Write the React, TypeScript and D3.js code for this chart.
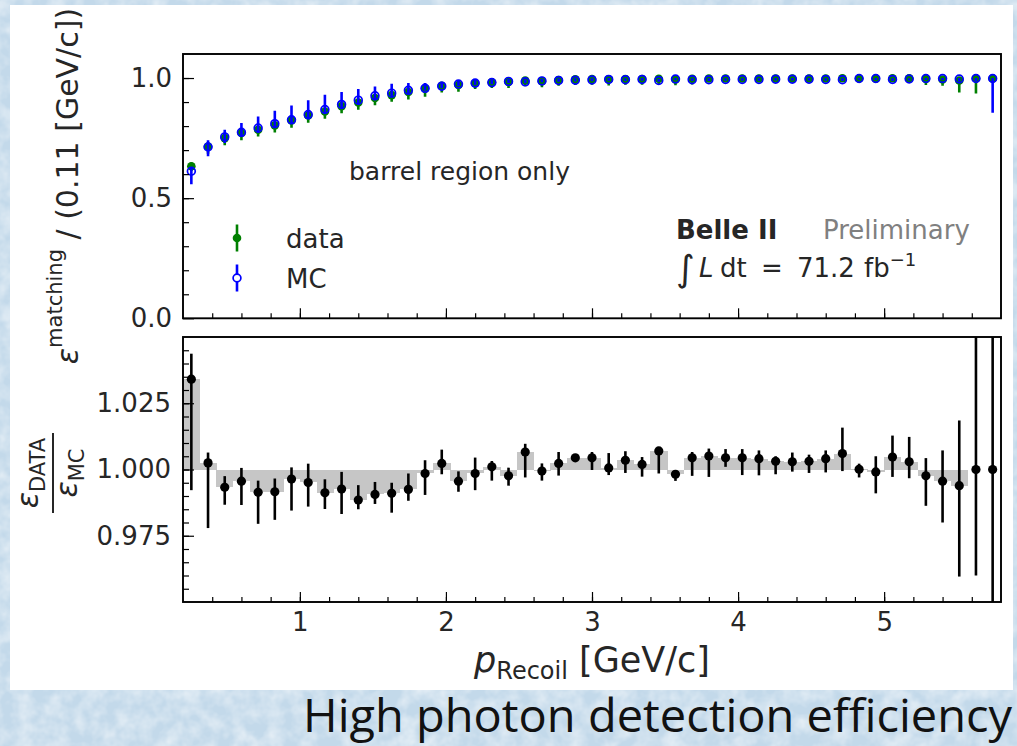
import React, { useEffect, useRef } from 'react';
import * as d3 from 'd3';

// binning of p_Recoil [GeV/c]
const binLow = 0.2;
const binHigh = 5.8;
const nBins = 49;

// matching efficiency, MC
const mcEff = [
  0.612, 0.713, 0.755, 0.774, 0.792, 0.81, 0.826, 0.848, 0.869, 0.89,
  0.908, 0.926, 0.937, 0.949, 0.957, 0.966, 0.975, 0.979, 0.981, 0.986,
  0.984, 0.988, 0.99, 0.991, 0.992, 0.994, 0.993, 0.994, 0.99, 0.996,
  0.993, 0.993, 0.994, 0.994, 0.994, 0.995, 0.995, 0.995, 0.994, 0.993,
  0.998, 0.998, 0.994, 0.996, 0.998, 0.998, 0.996, 0.998, 0.998,
];
const mcErrUp = [
  0.018, 0.028, 0.03, 0.039, 0.048, 0.054, 0.06, 0.06, 0.061, 0.052,
  0.046, 0.039, 0.039, 0.03, 0.022, 0.018, 0.015, 0.013, 0.012, 0.01,
  0.01, 0.009, 0.008, 0.008, 0.007, 0.006, 0.006, 0.006, 0.006, 0.004,
  0.006, 0.006, 0.005, 0.005, 0.005, 0.005, 0.005, 0.005, 0.005, 0.006,
  0.002, 0.002, 0.005, 0.003, 0.002, 0.002, 0.004, 0.002, 0.002,
];
const mcErrDown = [
  0.054, 0.039, 0.025, 0.019, 0.021, 0.018, 0.014, 0.021, 0.017, 0.018,
  0.02, 0.017, 0.013, 0.012, 0.01, 0.009, 0.008, 0.008, 0.007, 0.007,
  0.006, 0.006, 0.006, 0.005, 0.005, 0.005, 0.005, 0.005, 0.005, 0.005,
  0.005, 0.005, 0.005, 0.005, 0.005, 0.005, 0.005, 0.005, 0.005, 0.005,
  0.005, 0.006, 0.006, 0.006, 0.006, 0.006, 0.01, 0.01, 0.142,
];

// matching efficiency, data
const dataEff = [
  0.633, 0.715, 0.75, 0.771, 0.785, 0.803, 0.823, 0.844, 0.861, 0.883,
  0.898, 0.917, 0.929, 0.942, 0.956, 0.968, 0.971, 0.978, 0.982, 0.984,
  0.99, 0.987, 0.992, 0.995, 0.996, 0.995, 0.996, 0.996, 0.997, 0.994,
  0.997, 0.998, 0.998, 0.998, 0.998, 0.998, 0.998, 0.998, 0.998, 0.999,
  0.998, 0.997, 0.999, 0.999, 0.996, 0.994, 0.99, 0.998, 0.998,
];
const dataErrUp = [
  0.015, 0.012, 0.012, 0.012, 0.012, 0.012, 0.012, 0.012, 0.012, 0.012,
  0.012, 0.01, 0.01, 0.01, 0.008, 0.008, 0.008, 0.006, 0.005, 0.005,
  0.005, 0.005, 0.005, 0.004, 0.004, 0.004, 0.004, 0.004, 0.003, 0.004,
  0.003, 0.002, 0.002, 0.002, 0.002, 0.002, 0.002, 0.002, 0.002, 0.001,
  0.002, 0.003, 0.001, 0.001, 0.004, 0.006, 0.01, 0.002, 0.002,
];
const dataErrDown = [
  0.02, 0.03, 0.03, 0.03, 0.028, 0.03, 0.03, 0.03, 0.03, 0.03,
  0.03, 0.03, 0.028, 0.031, 0.034, 0.028, 0.028, 0.024, 0.024, 0.025,
  0.024, 0.025, 0.024, 0.024, 0.024, 0.026, 0.024, 0.024, 0.024, 0.024,
  0.024, 0.015, 0.015, 0.015, 0.015, 0.015, 0.015, 0.015, 0.015, 0.015,
  0.015, 0.015, 0.015, 0.015, 0.025, 0.026, 0.05, 0.062, 0.01,
];

// data / MC ratio
const ratio = [
  1.0341, 1.0025, 0.9933, 0.9956, 0.9914, 0.9916, 0.9964, 0.9951, 0.9912, 0.9926,
  0.9885, 0.9906, 0.991, 0.9925, 0.9985, 1.0023, 0.9956, 0.9985, 1.001, 0.9976,
  1.0066, 0.9994, 1.0023, 1.0044, 1.0044, 1.0006, 1.0035, 1.0019, 1.007, 0.9982,
  1.0044, 1.0051, 1.0044, 1.0044, 1.0041, 1.0031, 1.0029, 1.0031, 1.0041, 1.006,
  1.0001, 0.9991, 1.0047, 1.0029, 0.9976, 0.9956, 0.9939, 1.0, 1.0,
];
const ratioErrUp = [
  0.0096, 0.0039, 0.0042, 0.005, 0.0044, 0.005, 0.0044, 0.0071, 0.0051, 0.0065,
  0.0056, 0.0047, 0.004, 0.006, 0.005, 0.0052, 0.0037, 0.006, 0.0022, 0.0031,
  0.0031, 0.0029, 0.0043, 0.001, 0.0022, 0.0056, 0.0034, 0.0028, 0.0015, 0.0015,
  0.0022, 0.0028, 0.0033, 0.0033, 0.0031, 0.0019, 0.0035, 0.0025, 0.0031, 0.0098,
  0.0021, 0.0059, 0.0081, 0.0094, 0.0067, 0.0116, 0.0246, 0.08, 0.08,
];
const ratioErrDown = [
  0.0419, 0.0246, 0.0066, 0.009, 0.0119, 0.0106, 0.0119, 0.0091, 0.0061, 0.0094,
  0.0035, 0.0036, 0.0073, 0.0043, 0.0081, 0.0041, 0.004, 0.0063, 0.0052, 0.0037,
  0.0096, 0.0036, 0.0046, 0.0012, 0.0046, 0.0027, 0.0048, 0.0046, 0.0085, 0.0025,
  0.0068, 0.0079, 0.0034, 0.0065, 0.0063, 0.0049, 0.0037, 0.0044, 0.0052, 0.0066,
  0.0031, 0.0081, 0.0075, 0.0062, 0.0113, 0.0156, 0.0343, 0.04, 0.1,
];

const xMajor = [1, 2, 3, 4, 5];
const topYMajor = [0, 0.5, 1.0];
const bottomYMajor = [0.975, 1.0, 1.025];

const App = () => {
  const ref = useRef<SVGSVGElement>(null);

  useEffect(() => {
    document.body.style.margin = '0';
    document.body.style.overflow = 'hidden';
    const svg = d3.select(ref.current);
    svg.selectAll('*').remove();

    const W = 1017;
    const H = 746;
    const left = 183;
    const right = 1001;
    const font = "'DejaVu Sans', sans-serif";
    const green = '#008000';
    const blue = '#0000ff';

    const x = d3.scaleLinear().domain([binLow, binHigh]).range([left, right]);
    const yTop = d3.scaleLinear().domain([0, 1.1]).range([318.3, 54]);
    const yBot = d3.scaleLinear().domain([0.95, 1.05]).range([602, 337]);

    const bw = (binHigh - binLow) / nBins;
    const centers = d3.range(nBins).map((i) => binLow + (i + 0.5) * bw);

    // background
    const defs = svg.append('defs');
    const f = defs.append('filter').attr('id', 'tex').attr('x', 0).attr('y', 0).attr('width', 1).attr('height', 1);
    f.append('feTurbulence').attr('type', 'fractalNoise').attr('baseFrequency', 0.06).attr('numOctaves', 3).attr('seed', 4);
    f.append('feColorMatrix').attr('type', 'matrix')
      .attr('values', '0 0 0 0 1  0 0 0 0 1  0 0 0 0 1  1.0 0 0 0 -0.33');
    defs.append('clipPath').attr('id', 'clipTop')
      .append('rect').attr('x', left).attr('y', 54).attr('width', right - left).attr('height', 318.3 - 54);
    defs.append('clipPath').attr('id', 'clipBot')
      .append('rect').attr('x', left).attr('y', 337).attr('width', right - left).attr('height', 602 - 337);

    svg.append('rect').attr('width', W).attr('height', H).attr('fill', '#c3d9ea');
    svg.append('rect').attr('width', W).attr('height', H).attr('filter', 'url(#tex)');
    svg.append('rect').attr('x', 10).attr('y', 5).attr('width', 1003).attr('height', 685).attr('fill', '#ffffff');

    // ---------- top panel ----------
    const top = svg.append('g').attr('clip-path', 'url(#clipTop)');
    const errLine = (g, cx, y1, y2, color) =>
      g.append('line').attr('x1', cx).attr('x2', cx).attr('y1', y1).attr('y2', y2)
        .attr('stroke', color).attr('stroke-width', 2.6);

    centers.forEach((c, i) => {
      errLine(top, x(c), yTop(dataEff[i] + dataErrUp[i]), yTop(dataEff[i] - dataErrDown[i]), green);
    });
    top.selectAll('.dot').data(dataEff).enter().append('circle')
      .attr('cx', (d, i) => x(centers[i])).attr('cy', (d) => yTop(d)).attr('r', 4.3).attr('fill', green);
    centers.forEach((c, i) => {
      errLine(top, x(c), yTop(mcEff[i] + mcErrUp[i]), yTop(mcEff[i] - mcErrDown[i]), blue);
    });
    top.selectAll('.mc').data(mcEff).enter().append('circle')
      .attr('cx', (d, i) => x(centers[i])).attr('cy', (d) => yTop(d)).attr('r', 3.9)
      .attr('fill', 'none').attr('stroke', blue).attr('stroke-width', 1.7);

    // ---------- bottom panel ----------
    const bot = svg.append('g').attr('clip-path', 'url(#clipBot)');
    bot.selectAll('.bar').data(ratio).enter().append('rect')
      .attr('x', (d, i) => x(centers[i] - bw / 2))
      .attr('width', x(binLow + bw) - x(binLow) + 0.4)
      .attr('y', (d) => Math.min(yBot(d), yBot(1)))
      .attr('height', (d) => Math.abs(yBot(d) - yBot(1)))
      .attr('fill', '#c6c6c6')
      .attr('shape-rendering', 'crispEdges');
    centers.forEach((c, i) => {
      errLine(bot, x(c), yBot(ratio[i] + ratioErrUp[i]), yBot(ratio[i] - ratioErrDown[i]), '#000');
    });
    bot.selectAll('.rdot').data(ratio).enter().append('circle')
      .attr('cx', (d, i) => x(centers[i])).attr('cy', (d) => yBot(d)).attr('r', 4.6).attr('fill', '#000');

    // ---------- axes ----------
    const styleAxis = (g) => {
      g.select('.domain').remove();
      g.selectAll('line').attr('stroke', '#000').attr('stroke-width', 1.2);
      g.selectAll('text').attr('fill', '#262626').attr('font-size', 26).attr('font-family', font);
    };
    const xMinor = d3.range(0.4, 5.7, 0.2);
    [yTop(0), yBot(0.95)].forEach((yy, k) => {
      svg.append('g').attr('transform', `translate(0,${yy})`)
        .call(d3.axisBottom(x).tickValues(xMinor).tickSize(-5).tickFormat(() => ''))
        .call(styleAxis);
      svg.append('g').attr('transform', `translate(0,${yy})`)
        .call(d3.axisBottom(x).tickValues(xMajor).tickSize(-10).tickPadding(10.5)
          .tickFormat(k === 1 ? d3.format('d') : () => ''))
        .call(styleAxis);
    });
    svg.append('g').attr('transform', `translate(${left},0)`)
      .call(d3.axisLeft(yTop).tickValues(d3.range(0.1, 1.05, 0.1)).tickSize(-6).tickFormat(() => ''))
      .call(styleAxis);
    svg.append('g').attr('transform', `translate(${left},0)`)
      .call(d3.axisLeft(yTop).tickValues(topYMajor).tickSize(-11).tickPadding(11).tickFormat(d3.format('.1f')))
      .call(styleAxis);
    svg.append('g').attr('transform', `translate(${left},0)`)
      .call(d3.axisLeft(yBot).tickValues(d3.range(0.955, 1.047, 0.005)).tickSize(-6).tickFormat(() => ''))
      .call(styleAxis);
    svg.append('g').attr('transform', `translate(${left},0)`)
      .call(d3.axisLeft(yBot).tickValues(bottomYMajor).tickSize(-11).tickPadding(12).tickFormat(d3.format('.3f')))
      .call(styleAxis);

    // frames
    [[54, 318.3], [337, 602]].forEach(([a, b]) => {
      svg.append('rect').attr('x', left).attr('y', a).attr('width', right - left).attr('height', b - a)
        .attr('fill', 'none').attr('stroke', '#000').attr('stroke-width', 1.9);
    });

    // ---------- texts ----------
    const txt = (xx, yy, s, size, extra = {}) => {
      const t = svg.append('text').attr('x', xx).attr('y', yy).attr('font-family', font)
        .attr('font-size', size).attr('fill', '#262626').text(s);
      Object.entries(extra).forEach(([k, v]) => t.attr(k, v));
      return t;
    };
    txt(349, 180, 'barrel region only', 25);

    // legend
    errLine(svg, 237, 224.5, 251.5, green);
    svg.append('circle').attr('cx', 237).attr('cy', 238).attr('r', 4.3).attr('fill', green);
    errLine(svg, 237, 264.5, 291.5, blue);
    svg.append('circle').attr('cx', 237).attr('cy', 278).attr('r', 3.9).attr('fill', '#fff')
      .attr('stroke', blue).attr('stroke-width', 1.7);
    txt(286, 248, 'data', 26);
    txt(286, 288, 'MC', 26);

    txt(676, 239, 'Belle II', 26, { 'font-weight': 'bold' });
    txt(823, 239, 'Preliminary', 26, { fill: '#808080' });
    const lum = txt(676, 277, '', 26);
    lum.append('tspan').attr('font-size', 36).attr('y', 281).text('\u222B');
    lum.append('tspan').attr('font-style', 'italic').attr('x', 699).attr('y', 277).text('L');
    lum.append('tspan').attr('x', 720).text('dt');
    lum.append('tspan').attr('x', 761).text('=');
    lum.append('tspan').attr('x', 797).text('71.2');
    lum.append('tspan').attr('x', 864).text('fb');
    lum.append('tspan').attr('font-size', 18).attr('dy', -11).text('\u22121');

    // y label top
    const yl = svg.append('text').attr('transform', 'translate(78,186) rotate(-90)')
      .attr('text-anchor', 'middle').attr('font-family', font).attr('font-size', 30).attr('fill', '#262626');
    yl.append('tspan').attr('font-style', 'italic').text('\u03B5');
    yl.append('tspan').attr('font-size', 21).attr('dy', -16).text('matching');
    yl.append('tspan').attr('dy', 16).text(' / (0.11 [GeV/c])');

    // y label bottom (fraction)
    const fr = svg.append('g').attr('transform', 'translate(53,473) rotate(-90)')
      .attr('font-family', font).attr('fill', '#262626');
    fr.append('line').attr('x1', -40).attr('x2', 40).attr('y1', 0).attr('y2', 0)
      .attr('stroke', '#262626').attr('stroke-width', 2);
    const num = fr.append('text').attr('text-anchor', 'middle').attr('y', -15).attr('font-size', 30);
    num.append('tspan').attr('font-style', 'italic').text('\u03B5');
    num.append('tspan').attr('font-size', 21).attr('dy', 7).text('DATA');
    const den = fr.append('text').attr('text-anchor', 'middle').attr('y', 24).attr('font-size', 30);
    den.append('tspan').attr('font-style', 'italic').text('\u03B5');
    den.append('tspan').attr('font-size', 21).attr('dy', 7).text('MC');

    // x label
    const xl = svg.append('text').attr('x', 592).attr('y', 672).attr('text-anchor', 'middle')
      .attr('font-family', font).attr('font-size', 35).attr('fill', '#262626');
    xl.append('tspan').attr('font-style', 'italic').text('p');
    xl.append('tspan').attr('font-size', 24).attr('dy', 7).text('Recoil');
    xl.append('tspan').attr('dy', -7).text(' [GeV/c]');

    // slide title
    svg.append('text').attr('x', 303).attr('y', 732)
      .attr('font-family', "'Open Sans', 'Noto Sans', sans-serif").attr('font-size', 45)
      .attr('textLength', 709).attr('lengthAdjust', 'spacingAndGlyphs')
      .attr('fill', '#111').text('High photon detection efficiency');
  }, []);

  return (
    <div style={{ position: 'absolute', left: 0, top: 0 }}>
      <svg ref={ref} width={1017} height={746} style={{ display: 'block' }} />
    </div>
  );
};

export default App;
